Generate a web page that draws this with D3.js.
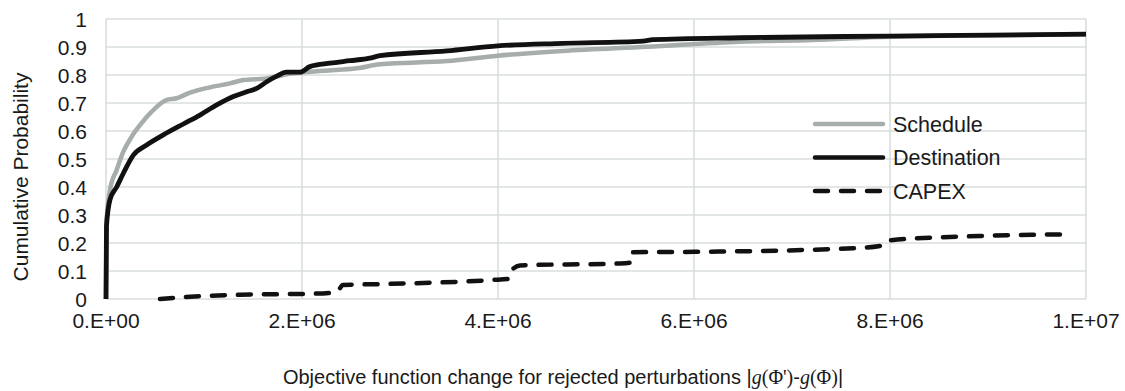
<!DOCTYPE html>
<html>
<head>
<meta charset="utf-8">
<script src="https://cdn.jsdelivr.net/npm/d3@7"></script>
<style>
    body { margin: 0; background: #fff; }
    text { font-family: "Liberation Sans", Arial, sans-serif; fill: #1a1a1a; }
</style>
</head>
<body>
<div id="chart"></div>
<script>
// x values in units of 1E+06
const scheduleX = [0, 0.005, 0.04, 0.109, 0.177, 0.262, 0.347, 0.466, 0.619, 0.721, 0.857, 1.06, 1.265, 1.40, 1.64, 1.877, 2.217, 2.558, 2.796, 3.477, 3.997, 4.663, 5.52, 6.47, 7.214, 8.0, 10.0];
const scheduleY = [0, 0.27, 0.389, 0.461, 0.526, 0.58, 0.621, 0.669, 0.711, 0.717, 0.737, 0.756, 0.77, 0.782, 0.788, 0.804, 0.815, 0.824, 0.838, 0.85, 0.869, 0.886, 0.901, 0.919, 0.925, 0.937, 0.945];

const destinationX = [0, 0.005, 0.04, 0.109, 0.177, 0.279, 0.415, 0.585, 0.789, 0.959, 1.13, 1.30, 1.436, 1.538, 1.64, 1.742, 1.84, 1.98, 2.08, 2.286, 2.49, 2.69, 2.796, 3.477, 3.997, 4.663, 5.48, 5.58, 6.47, 8.0, 10.0];
const destinationY = [0, 0.26, 0.354, 0.40, 0.449, 0.514, 0.55, 0.586, 0.625, 0.657, 0.693, 0.723, 0.74, 0.752, 0.776, 0.796, 0.81, 0.81, 0.83, 0.842, 0.851, 0.86, 0.869, 0.886, 0.904, 0.913, 0.921, 0.926, 0.933, 0.939, 0.946];

const capexX = [0.551, 0.857, 1.367, 2.214, 2.357, 2.418, 2.898, 3.949, 4.112, 4.133, 4.224, 5.245, 5.347, 5.357, 5.857, 7.622, 7.949, 8.01, 8.918, 9.786];
const capexY = [0, 0.008, 0.015, 0.02, 0.026, 0.05, 0.054, 0.068, 0.072, 0.1, 0.12, 0.127, 0.13, 0.167, 0.168, 0.181, 0.193, 0.21, 0.225, 0.231];

const xTicks = [0, 2, 4, 6, 8, 10];
const xTickLabels = ["0.E+00", "2.E+06", "4.E+06", "6.E+06", "8.E+06", "1.E+07"];
const yTicks = [0, 0.1, 0.2, 0.3, 0.4, 0.5, 0.6, 0.7, 0.8, 0.9, 1];
const yTickLabels = ["0", "0.1", "0.2", "0.3", "0.4", "0.5", "0.6", "0.7", "0.8", "0.9", "1"];

const seriesNames = ["Schedule", "Destination", "CAPEX"];

const width = 1125;
const height = 391;
const margin = { top: 19, right: 39, bottom: 92, left: 106 };

const svg = d3.select("#chart").append("svg")
    .attr("width", width)
    .attr("height", height);

const x = d3.scaleLinear()
    .domain([0, 10])
    .range([margin.left, width - margin.right]);

const y = d3.scaleLinear()
    .domain([0, 1])
    .range([height - margin.bottom, margin.top]);

// gridlines
svg.append("g")
    .selectAll("line")
    .data(yTicks)
    .enter()
    .append("line")
    .attr("x1", x(0))
    .attr("x2", x(10))
    .attr("y1", d => y(d))
    .attr("y2", d => y(d))
    .attr("stroke", "#d9dedc")
    .attr("stroke-width", 1.6);

svg.append("g")
    .selectAll("line")
    .data(xTicks)
    .enter()
    .append("line")
    .attr("x1", d => x(d))
    .attr("x2", d => x(d))
    .attr("y1", y(0))
    .attr("y2", y(1))
    .attr("stroke", "#d9dedc")
    .attr("stroke-width", 1.6);

// tick labels
svg.append("g")
    .selectAll("text")
    .data(yTicks)
    .enter()
    .append("text")
    .attr("x", 87)
    .attr("y", d => y(d) + 7.5)
    .attr("text-anchor", "end")
    .style("font-size", "21px")
    .text((d, i) => yTickLabels[i]);

svg.append("g")
    .selectAll("text")
    .data(xTicks)
    .enter()
    .append("text")
    .attr("x", d => x(d))
    .attr("y", 328)
    .attr("text-anchor", "middle")
    .style("font-size", "21px")
    .text((d, i) => xTickLabels[i]);

// axis titles
svg.append("text")
    .attr("transform", "translate(28,177) rotate(-90)")
    .attr("text-anchor", "middle")
    .style("font-size", "21px")
    .text("Cumulative Probability");

const xTitle = svg.append("text")
    .attr("x", 563)
    .attr("y", 384)
    .attr("text-anchor", "middle")
    .style("font-size", "20px");
xTitle.append("tspan").text("Objective function change for rejected perturbations |");
xTitle.append("tspan").style("font-family", "Liberation Serif, serif").style("font-style", "italic").text("g");
xTitle.append("tspan").style("font-family", "Liberation Serif, serif").text("(Φ')");
xTitle.append("tspan").text("-");
xTitle.append("tspan").style("font-family", "Liberation Serif, serif").style("font-style", "italic").text("g");
xTitle.append("tspan").style("font-family", "Liberation Serif, serif").text("(Φ)");
xTitle.append("tspan").text("|");

// lines
const line = d3.line()
    .x(d => x(d[0]))
    .y(d => y(d[1]))
    .curve(d3.curveMonotoneX);

const scheduleData = scheduleX.map((d, i) => [d, scheduleY[i]]);
const destinationData = destinationX.map((d, i) => [d, destinationY[i]]);
const capexData = capexX.map((d, i) => [d, capexY[i]]);

svg.append("path")
    .datum(scheduleData)
    .attr("d", line)
    .attr("fill", "none")
    .attr("stroke", "#a6adaa")
    .attr("stroke-width", 4.5)
    .attr("stroke-linejoin", "round");

svg.append("path")
    .datum(capexData)
    .attr("d", line)
    .attr("fill", "none")
    .attr("stroke", "#111")
    .attr("stroke-width", 4.5)
    .attr("stroke-dasharray", "13,13")
    .attr("stroke-linecap", "round")
    .attr("stroke-linejoin", "round");

svg.append("path")
    .datum(destinationData)
    .attr("d", line)
    .attr("fill", "none")
    .attr("stroke", "#111")
    .attr("stroke-width", 4.8)
    .attr("stroke-linejoin", "round");

// legend
const legendStyles = [
    { color: "#a6adaa", dash: null },
    { color: "#111", dash: null },
    { color: "#111", dash: "13,13" }
];

const legend = svg.append("g")
    .selectAll("g")
    .data(seriesNames)
    .enter()
    .append("g")
    .attr("transform", (d, i) => `translate(815,${124 + i * 33.5})`);

legend.append("line")
    .attr("x1", 0)
    .attr("x2", 68)
    .attr("stroke", (d, i) => legendStyles[i].color)
    .attr("stroke-width", 4.5)
    .attr("stroke-linecap", "round")
    .attr("stroke-dasharray", (d, i) => legendStyles[i].dash);

legend.append("text")
    .attr("x", 78)
    .attr("y", 7.5)
    .style("font-size", "21.5px")
    .text(d => d);
</script>
</body>
</html>
